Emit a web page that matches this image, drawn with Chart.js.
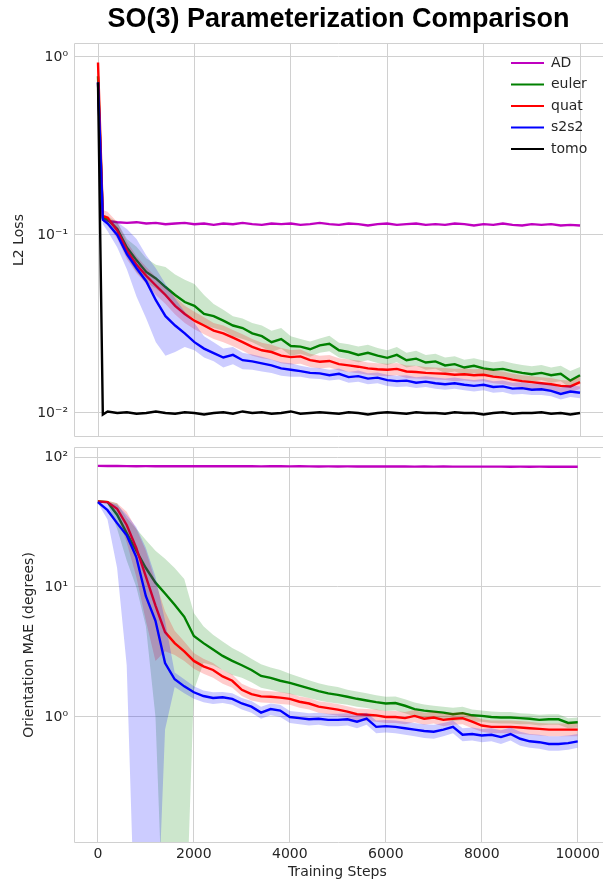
<!DOCTYPE html>
<html>
<head>
<meta charset="utf-8">
<script src="https://cdn.jsdelivr.net/npm/chart.js@4.4.1/dist/chart.umd.min.js"></script>
<style>
  body { margin: 0; background: #fff; }
  #wrap { position: relative; width: 603px; height: 882px; }
  #lossBox { position: absolute; left: 0; top: 0; width: 603px; height: 442px; }
  #maeBox { position: absolute; left: 0; top: 442px; width: 603px; height: 440px; }
</style>
</head>
<body>
<div id="wrap">
  <div id="lossBox"><canvas id="lossChart" width="603" height="442"></canvas></div>
  <div id="maeBox"><canvas id="maeChart" width="603" height="440"></canvas></div>
</div>
<script>
// ---- data ----
const methods = ['AD', 'euler', 'quat', 's2s2', 'tomo'];

const stepsTop = [0, 100, 200, 400, 600, 800, 1000, 1200, 1400, 1600,
  1800, 2000, 2200, 2400, 2600, 2800, 3000, 3200, 3400, 3600,
  3800, 4000, 4200, 4400, 4600, 4800, 5000, 5200, 5400, 5600,
  5800, 6000, 6200, 6400, 6600, 6800, 7000, 7200, 7400, 7600,
  7800, 8000, 8200, 8400, 8600, 8800, 9000, 9200, 9400, 9600,
  9800, 10000];

const lossAD = [0.72, 0.125, 0.120, 0.118, 0.117, 0.118, 0.116, 0.117, 0.115, 0.116,
  0.117, 0.115, 0.116, 0.114, 0.116, 0.115, 0.117, 0.115, 0.114, 0.116,
  0.115, 0.116, 0.114, 0.115, 0.117, 0.115, 0.114, 0.116, 0.115, 0.113,
  0.115, 0.116, 0.114, 0.115, 0.116, 0.114, 0.115, 0.114, 0.116, 0.115,
  0.113, 0.115, 0.114, 0.116, 0.114, 0.113, 0.115, 0.114, 0.115, 0.113,
  0.114, 0.113];
const lossEuler = [0.78, 0.125, 0.122, 0.108, 0.085, 0.072, 0.062, 0.057, 0.051, 0.046,
  0.042, 0.040, 0.036, 0.035, 0.033, 0.031, 0.030, 0.028, 0.027, 0.025,
  0.026, 0.0238, 0.0236, 0.0228, 0.0240, 0.0245, 0.0225, 0.0220, 0.0212, 0.0218,
  0.0210, 0.0204, 0.0212, 0.0198, 0.0202, 0.0192, 0.0195, 0.0185, 0.0188, 0.0180,
  0.0184, 0.0178, 0.0175, 0.0177, 0.0172, 0.0168, 0.0165, 0.0168, 0.0163, 0.0166,
  0.0152, 0.0163];
const lossEulerHi = [0.80, 0.130, 0.128, 0.118, 0.095, 0.086, 0.074, 0.068, 0.066, 0.060,
  0.056, 0.053, 0.046, 0.041, 0.038, 0.035, 0.034, 0.032, 0.031, 0.029,
  0.030, 0.027, 0.026, 0.0252, 0.0262, 0.0272, 0.0248, 0.0243, 0.0236, 0.0242,
  0.0232, 0.0225, 0.0235, 0.0218, 0.0224, 0.0212, 0.0215, 0.0205, 0.0208, 0.0199,
  0.0203, 0.0197, 0.0193, 0.0196, 0.0190, 0.0186, 0.0183, 0.0186, 0.0180, 0.0184,
  0.0172, 0.0181];
const lossEulerLo = [0.76, 0.120, 0.116, 0.098, 0.075, 0.062, 0.054, 0.050, 0.045, 0.040,
  0.036, 0.034, 0.031, 0.030, 0.029, 0.027, 0.026, 0.025, 0.0235, 0.022,
  0.023, 0.021, 0.0215, 0.0207, 0.0218, 0.0222, 0.0205, 0.0200, 0.0193, 0.0198,
  0.0191, 0.0186, 0.0193, 0.0180, 0.0184, 0.0175, 0.0177, 0.0168, 0.0171, 0.0164,
  0.0167, 0.0162, 0.0159, 0.0161, 0.0156, 0.0153, 0.0150, 0.0153, 0.0148, 0.0151,
  0.0138, 0.0148];
const lossQuat = [0.93, 0.128, 0.125, 0.106, 0.082, 0.068, 0.059, 0.052, 0.046, 0.040,
  0.036, 0.033, 0.031, 0.029, 0.028, 0.0265, 0.025, 0.0235, 0.0225, 0.022,
  0.021, 0.0206, 0.0208, 0.0198, 0.0194, 0.0196, 0.0188, 0.0185, 0.0182, 0.0178,
  0.0176, 0.0175, 0.0177, 0.0171, 0.0170, 0.0168, 0.0167, 0.0166, 0.0164, 0.0165,
  0.0163, 0.0164, 0.0160, 0.0158, 0.0154, 0.0151, 0.0149, 0.0147, 0.0145, 0.0142,
  0.0141, 0.0149];
const lossQuatHi = [0.95, 0.138, 0.135, 0.118, 0.092, 0.076, 0.066, 0.058, 0.051, 0.045,
  0.040, 0.037, 0.0345, 0.032, 0.031, 0.0293, 0.0277, 0.026, 0.0248, 0.0242,
  0.0232, 0.0226, 0.0227, 0.0215, 0.0210, 0.0212, 0.0203, 0.0200, 0.0197, 0.0192,
  0.0190, 0.0189, 0.0191, 0.0185, 0.0184, 0.0181, 0.0180, 0.0179, 0.0177, 0.0178,
  0.0176, 0.0177, 0.0173, 0.0171, 0.0166, 0.0163, 0.0161, 0.0159, 0.0157, 0.0153,
  0.0152, 0.0161];
const lossQuatLo = [0.90, 0.120, 0.115, 0.095, 0.073, 0.061, 0.053, 0.046, 0.041, 0.0357,
  0.032, 0.0295, 0.0277, 0.026, 0.025, 0.0237, 0.0224, 0.021, 0.0203, 0.0199,
  0.0190, 0.0187, 0.0189, 0.0181, 0.0178, 0.0180, 0.0173, 0.0170, 0.0167, 0.0164,
  0.0162, 0.0161, 0.0163, 0.0157, 0.0156, 0.0155, 0.0154, 0.0153, 0.0151, 0.0152,
  0.0150, 0.0151, 0.0147, 0.0145, 0.0142, 0.0139, 0.0137, 0.0135, 0.0133, 0.0131,
  0.0130, 0.0137];
const lossS2s2 = [0.72, 0.122, 0.116, 0.100, 0.078, 0.065, 0.055, 0.043, 0.035, 0.031,
  0.028, 0.025, 0.023, 0.0217, 0.0205, 0.0212, 0.0198, 0.0195, 0.0190, 0.0185,
  0.0178, 0.0175, 0.0172, 0.0168, 0.0167, 0.0163, 0.0166, 0.0159, 0.0161, 0.0156,
  0.0158, 0.0153, 0.0151, 0.0152, 0.0148, 0.0150, 0.0147, 0.0145, 0.0147, 0.0144,
  0.0142, 0.0144, 0.0140, 0.0141, 0.0137, 0.0138, 0.0135, 0.0136, 0.0133, 0.0128,
  0.0132, 0.0130];
const lossS2s2Hi = [0.74, 0.125, 0.122, 0.118, 0.108, 0.095, 0.077, 0.065, 0.053, 0.044,
  0.037, 0.032, 0.027, 0.025, 0.023, 0.0235, 0.0218, 0.0213, 0.0207, 0.0200,
  0.0193, 0.0190, 0.0184, 0.0180, 0.0179, 0.0175, 0.0178, 0.0170, 0.0173, 0.0167,
  0.0169, 0.0164, 0.0162, 0.0163, 0.0159, 0.0161, 0.0158, 0.0156, 0.0158, 0.0155,
  0.0153, 0.0155, 0.0151, 0.0152, 0.0148, 0.0149, 0.0146, 0.0147, 0.0144, 0.0139,
  0.0143, 0.0141];
const lossS2s2Lo = [0.70, 0.115, 0.105, 0.085, 0.064, 0.045, 0.034, 0.025, 0.021, 0.022,
  0.0235, 0.0225, 0.0205, 0.0195, 0.0180, 0.0188, 0.0176, 0.0175, 0.0171, 0.0168,
  0.0162, 0.0160, 0.0160, 0.0156, 0.0155, 0.0152, 0.0154, 0.0148, 0.0150, 0.0145,
  0.0147, 0.0142, 0.0140, 0.0141, 0.0138, 0.0140, 0.0137, 0.0135, 0.0137, 0.0134,
  0.0132, 0.0134, 0.0130, 0.0131, 0.0127, 0.0128, 0.0126, 0.0126, 0.0124, 0.0119,
  0.0123, 0.0121];
const lossTomo = [0.72, 0.0098, 0.0102, 0.0100, 0.0101, 0.0099, 0.0100, 0.0102, 0.0100, 0.0099,
  0.0101, 0.0100, 0.0098, 0.0100, 0.0101, 0.0099, 0.0102, 0.0100, 0.0101, 0.0099,
  0.0100, 0.0102, 0.0099, 0.0100, 0.0101, 0.0100, 0.0099, 0.0101, 0.0100, 0.0098,
  0.0100, 0.0101, 0.0100, 0.0099, 0.0101, 0.0100, 0.0100, 0.0099, 0.0101, 0.0100,
  0.0100, 0.0098, 0.0100, 0.0101, 0.0099, 0.0100, 0.0100, 0.0101, 0.0099, 0.0100,
  0.0098, 0.0100];

const stepsBot = [0, 200, 400, 600, 800, 1000, 1200, 1400, 1600, 1800,
  2000, 2200, 2400, 2600, 2800, 3000, 3200, 3400, 3600, 3800,
  4000, 4200, 4400, 4600, 4800, 5000, 5200, 5400, 5600, 5800,
  6000, 6200, 6400, 6600, 6800, 7000, 7200, 7400, 7600, 7800,
  8000, 8200, 8400, 8600, 8800, 9000, 9200, 9400, 9600, 9800,
  10000];

const maeAD = [85.5, 85.3, 85.2, 85.1, 85.0, 85.1, 84.9, 85.0, 84.9, 85.0,
  85.0, 84.9, 84.8, 84.9, 84.8, 84.9, 84.8, 84.7, 84.8, 84.8,
  84.7, 84.8, 84.7, 84.6, 84.7, 84.6, 84.7, 84.6, 84.5, 84.6,
  84.5, 84.6, 84.5, 84.4, 84.5, 84.4, 84.5, 84.4, 84.3, 84.4,
  84.3, 84.4, 84.3, 84.2, 84.3, 84.2, 84.3, 84.2, 84.1, 84.2,
  84.1];
const maeEuler = [45.5, 45, 36, 26, 19, 14, 10.8, 8.9, 7.3, 5.9,
  4.2, 3.7, 3.3, 2.95, 2.7, 2.5, 2.3, 2.07, 2.0, 1.9,
  1.83, 1.74, 1.66, 1.58, 1.52, 1.48, 1.43, 1.38, 1.34, 1.3,
  1.27, 1.28, 1.22, 1.15, 1.12, 1.1, 1.08, 1.05, 1.07, 1.03,
  1.02, 1.0, 0.99, 0.99, 0.98, 0.97, 0.95, 0.96, 0.96, 0.9,
  0.91];
const maeEulerHi = [46, 46, 44, 34, 28, 23, 19, 16.5, 14, 11.5,
  6.3, 5.0, 4.3, 3.8, 3.4, 3.1, 2.8, 2.55, 2.4, 2.3,
  2.15, 2.03, 1.92, 1.82, 1.75, 1.7, 1.62, 1.57, 1.52, 1.47,
  1.43, 1.44, 1.37, 1.29, 1.25, 1.22, 1.2, 1.18, 1.2, 1.14,
  1.12, 1.1, 1.09, 1.09, 1.07, 1.06, 1.04, 1.05, 1.05, 0.98,
  0.99];
const maeEulerLo = [45, 44, 28, 16, 10, 5, 1.0, 0.01, 0.01, 0.01,
  1.6, 2.6, 2.5, 2.3, 2.1, 2.0, 1.85, 1.68, 1.62, 1.55,
  1.5, 1.45, 1.4, 1.34, 1.3, 1.27, 1.24, 1.2, 1.17, 1.13,
  1.11, 1.12, 1.07, 1.01, 0.99, 0.98, 0.96, 0.93, 0.95, 0.92,
  0.92, 0.9, 0.89, 0.89, 0.88, 0.88, 0.86, 0.87, 0.87, 0.82,
  0.83];
const maeQuat = [45.5, 45, 40, 30, 20, 12, 7.2, 4.5, 3.7, 3.2,
  2.7, 2.45, 2.3, 2.05, 1.9, 1.62, 1.5, 1.44, 1.43, 1.41,
  1.38, 1.31, 1.27, 1.2, 1.17, 1.14, 1.1, 1.05, 1.04, 1.03,
  1.0, 1.0, 0.98, 1.02, 0.97, 0.99, 0.95, 0.97, 0.98, 0.92,
  0.86, 0.84, 0.84, 0.84, 0.83, 0.82, 0.81, 0.8, 0.8, 0.8,
  0.8];
const maeQuatHi = [46, 46, 44, 38, 28, 19, 11, 6.5, 4.6, 3.8,
  3.1, 2.8, 2.6, 2.3, 2.12, 1.8, 1.67, 1.6, 1.58, 1.56,
  1.52, 1.44, 1.4, 1.32, 1.29, 1.26, 1.21, 1.16, 1.15, 1.14,
  1.11, 1.11, 1.09, 1.13, 1.08, 1.1, 1.06, 1.08, 1.09, 1.02,
  0.96, 0.94, 0.94, 0.94, 0.93, 0.92, 0.9, 0.89, 0.89, 0.89,
  0.89];
const maeQuatLo = [45, 44, 36, 22, 12, 5.5, 2.7, 3.2, 3.0, 2.7,
  2.35, 2.15, 2.0, 1.8, 1.68, 1.45, 1.34, 1.29, 1.28, 1.26,
  1.24, 1.18, 1.14, 1.08, 1.05, 1.02, 0.99, 0.94, 0.93, 0.92,
  0.9, 0.9, 0.88, 0.91, 0.87, 0.89, 0.85, 0.87, 0.88, 0.82,
  0.77, 0.75, 0.75, 0.75, 0.74, 0.73, 0.72, 0.71, 0.71, 0.71,
  0.71];
const maeS2s2 = [45, 39, 31, 25, 17, 8.5, 5.5, 2.6, 1.95, 1.72,
  1.55, 1.45, 1.4, 1.42, 1.38, 1.27, 1.2, 1.08, 1.15, 1.12,
  1.0, 0.98, 0.96, 0.97, 0.95, 0.95, 0.96, 0.92, 0.97, 0.84,
  0.85, 0.84, 0.82, 0.8, 0.78, 0.77, 0.8, 0.84, 0.73, 0.74,
  0.72, 0.73, 0.7, 0.74, 0.68, 0.65, 0.64, 0.62, 0.62, 0.63,
  0.65];
const maeS2s2Hi = [46, 45, 43, 36, 29, 20, 12, 5.5, 2.2, 1.95,
  1.72, 1.6, 1.55, 1.56, 1.52, 1.4, 1.33, 1.2, 1.27, 1.24,
  1.11, 1.09, 1.07, 1.08, 1.06, 1.06, 1.07, 1.03, 1.08, 0.94,
  0.95, 0.94, 0.92, 0.9, 0.88, 0.87, 0.9, 0.94, 0.82, 0.83,
  0.81, 0.82, 0.79, 0.83, 0.77, 0.74, 0.73, 0.71, 0.71, 0.72,
  0.74];
const maeS2s2Lo = [44, 33, 14, 2.5, 0.01, 0.01, 0.01, 0.8, 1.7, 1.52,
  1.38, 1.3, 1.26, 1.28, 1.24, 1.14, 1.08, 0.97, 1.03, 1.0,
  0.9, 0.88, 0.86, 0.87, 0.85, 0.85, 0.86, 0.82, 0.87, 0.75,
  0.76, 0.75, 0.73, 0.71, 0.69, 0.68, 0.71, 0.75, 0.65, 0.66,
  0.64, 0.65, 0.62, 0.66, 0.6, 0.58, 0.57, 0.55, 0.55, 0.56,
  0.58];

const stepTicks = [0, 2000, 4000, 6000, 8000, 10000];
const lossTicks = [0.01, 0.1, 1];
const lossTickLabels = ['10⁻²', '10⁻¹', '10⁰'];
const maeTicks = [1, 10, 100];
const maeTickLabels = ['10⁰', '10¹', '10²'];

// ---- styles ----
const colors = ['#bf00bf', '#008000', '#ff0000', '#0000ff', '#000000'];
const fills = ['rgba(191,0,191,0.2)', 'rgba(0,128,0,0.2)', 'rgba(255,0,0,0.2)', 'rgba(0,0,255,0.2)', 'rgba(0,0,0,0.2)'];
const gridColor = '#d0d0d0';

Chart.defaults.font.family = "'DejaVu Sans', sans-serif";
Chart.defaults.font.size = 14;
Chart.defaults.color = '#262626';

const pts = (xs, ys) => ys.map((y, i) => ({ x: xs[i], y: y }));

const makeSets = (xs, means, bands) => {
    const sets = [];
    methods.forEach((m, k) => {
        if (!means[k]) return;
        const z = 10 * (methods.length - k); // AD underneath, tomo on top
        if (bands[k]) {
            sets.push({ label: m + ' hi', data: pts(xs, bands[k][1]), borderWidth: 0, pointRadius: 0,
                backgroundColor: fills[k], fill: '+1', order: z + 2 });
            sets.push({ label: m + ' lo', data: pts(xs, bands[k][0]), borderWidth: 0, pointRadius: 0,
                fill: false, order: z + 1 });
        }
        sets.push({ label: m, data: pts(xs, means[k]), borderColor: colors[k], borderWidth: 2.4,
            pointRadius: 0, fill: false, order: z });
    });
    return sets;
};

const axisX = (showTicks, height) => ({
    type: 'linear', min: -498, max: 10477,
    afterBuildTicks: s => { s.ticks = stepTicks.map(v => ({ value: v })); },
    afterFit: s => { s.height = height; },
    grid: { color: gridColor, lineWidth: 1, drawTicks: false },
    border: { display: false },
    ticks: { display: showTicks, padding: 3, callback: v => String(v) },
    title: { display: showTicks, text: 'Training Steps', padding: { top: 0, bottom: 1 } }
});

const axisY = (min, max, tickVals, tickText, label, titlePad) => ({
    type: 'logarithmic', min: min, max: max,
    afterBuildTicks: s => { s.ticks = tickVals.map(v => ({ value: v })); },
    afterFit: s => { s.width = 74; s.paddingTop = 0; s.paddingBottom = 0; },
    grid: { color: gridColor, lineWidth: 1, drawTicks: false },
    border: { display: false },
    ticks: { padding: 6, callback: v => tickText[tickVals.indexOf(v)] },
    title: { display: true, text: label, padding: { top: titlePad, bottom: 0 } }
});

// light frame on the left, top and bottom (right side is cut off in the reference)
const frame = {
    id: 'frame',
    afterDatasetsDraw(chart) {
        const { ctx, chartArea: a } = chart;
        ctx.save();
        ctx.strokeStyle = gridColor;
        ctx.lineWidth = 1;
        ctx.beginPath();
        ctx.moveTo(chart.width, a.top + 0.5);
        ctx.lineTo(a.left + 0.5, a.top + 0.5);
        ctx.lineTo(a.left + 0.5, a.bottom - 0.5);
        ctx.lineTo(chart.width, a.bottom - 0.5);
        ctx.stroke();
        ctx.restore();
    }
};

// move the legend to the upper right corner of the plot
const legendSpot = {
    id: 'legendSpot',
    afterLayout(chart) {
        const lg = chart.legend;
        if (!lg) return;
        lg.left = 503.5;
        lg.top = 48.5;
    }
};

new Chart(document.getElementById('lossChart'), {
    type: 'line',
    data: { datasets: makeSets(stepsTop,
        [lossAD, lossEuler, lossQuat, lossS2s2, lossTomo],
        [null, [lossEulerLo, lossEulerHi], [lossQuatLo, lossQuatHi], [lossS2s2Lo, lossS2s2Hi], null]) },
    options: {
        responsive: false,
        animation: false,
        events: [],
        layout: { padding: 0 },
        scales: {
            x: axisX(false, 5),
            y: axisY(0.00733, 1.198, lossTicks, lossTickLabels, 'L2 Loss', 11)
        },
        plugins: {
            title: {
                display: true,
                text: 'SO(3) Parameterization Comparison',
                fullSize: false,
                color: '#000',
                font: { family: "'Liberation Sans', Arial, sans-serif", weight: 'bold', size: 27 },
                padding: { top: 3.5, bottom: 7.1 }
            },
            legend: {
                position: 'chartArea',
                align: 'start',
                labels: {
                    boxWidth: 33,
                    boxHeight: 2,
                    padding: 7.5,
                    color: '#262626',
                    font: { size: 14 },
                    generateLabels: () => methods.map((m, k) => ({
                        text: m, fillStyle: colors[k], strokeStyle: colors[k],
                        lineWidth: 0, fontColor: '#262626', hidden: false, datasetIndex: k
                    }))
                }
            },
            tooltip: { enabled: false }
        }
    },
    plugins: [frame, legendSpot]
});

new Chart(document.getElementById('maeChart'), {
    type: 'line',
    data: { datasets: makeSets(stepsBot,
        [maeAD, maeEuler, maeQuat, maeS2s2, null],
        [null, [maeEulerLo, maeEulerHi], [maeQuatLo, maeQuatHi], [maeS2s2Lo, maeS2s2Hi], null]) },
    options: {
        responsive: false,
        animation: false,
        events: [],
        layout: { padding: { top: 5, left: 0, right: 0, bottom: 0 } },
        scales: {
            x: axisX(true, 39),
            y: axisY(0.1073, 119.4, maeTicks, maeTickLabels, 'Orientation MAE (degrees)', 21)
        },
        plugins: {
            title: { display: false },
            legend: { display: false },
            tooltip: { enabled: false }
        }
    },
    plugins: [frame]
});
</script>
</body>
</html>
